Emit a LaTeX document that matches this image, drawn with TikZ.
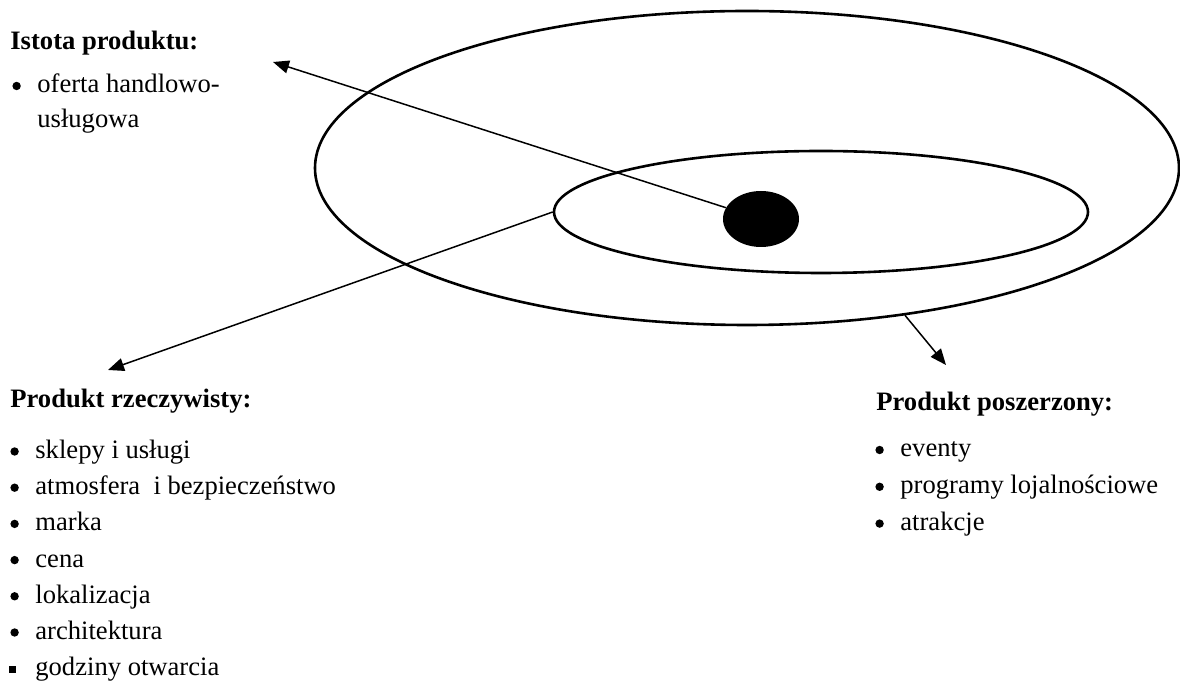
\documentclass[tikz,border=0pt]{standalone}
\usepackage{fontspec}
\setmainfont{Liberation Serif}
\usetikzlibrary{arrows.meta,shapes.geometric}
\tikzset{
  ring/.style={ellipse,draw,line width=1.3pt,inner sep=0pt},
  core/.style={ellipse,fill=black,inner sep=0pt,minimum width=38pt,minimum height=28pt},
  head/.style={anchor=base west,inner sep=0pt,font=\fontsize{13.3}{18}\selectfont\bfseries},
  item/.style={anchor=base west,inner sep=0pt,font=\fontsize{13.3}{18}\selectfont},
  arrow/.style={-{Triangle[length=8pt,width=6.5pt]},line width=0.75pt},
}
\newcommand{\dotitem}[1]{\llap{\raisebox{1.4pt}{\tikz\fill (0,0) circle (2.1pt);}\hspace{8.3pt}}#1}
\newcommand{\sqitem}[1]{\llap{\rule[1.35pt]{3.3pt}{3.3pt}\hspace{9.7pt}}#1}

\begin{document}
\begin{tikzpicture}[x=0.5pt,y=-0.5pt]
    \useasboundingbox (0,0) rectangle (1180,683);
    % product levels
    \node[ring,minimum width=432pt,minimum height=157pt] (outer) at (747,168) {};
    \node[ring,minimum width=267pt,minimum height=61pt] (inner) at (821,212) {};
    \node[core] (dot) at (761,219) {};
    % arrow ends
    \coordinate (istotaTip) at (273,62);
    \coordinate (rzeczTip) at (108,370);
    \coordinate (poszTip) at (946,365);
    \draw[arrow] (dot) -- (istotaTip);
    \draw[arrow] (inner.west) -- (rzeczTip);
    \draw[arrow] (outer.-43) -- (poszTip);
    % Istota produktu
    \node[head] (istota) at (10,50) {Istota produktu:};
    \node[item] (ist1) at (37,93) {\dotitem{oferta handlowo-}};
    \node[item] (ist2) at (37,128) {usługowa};
    % Produkt rzeczywisty
    \node[head] (rzecz) at (10,408) {Produkt rzeczywisty:};
    \foreach \txt [count=\i] in {sklepy i usługi,atmosfera\ \ i bezpieczeństwo,marka,cena,lokalizacja,architektura}
      \node[item] (rz\i) at (35,{458.5+36.2*(\i-1)}) {\dotitem{\txt}};
    \node[item] (rz7) at (35,675.7) {\sqitem{godziny otwarcia}};
    % Produkt poszerzony
    \node[head] (posz) at (876,411) {Produkt poszerzony:};
    \foreach \txt [count=\i] in {eventy,programy lojalnościowe,atrakcje}
      \node[item] (po\i) at (900,{457+36.8*(\i-1)}) {\dotitem{\txt}};
\end{tikzpicture}
\end{document}
